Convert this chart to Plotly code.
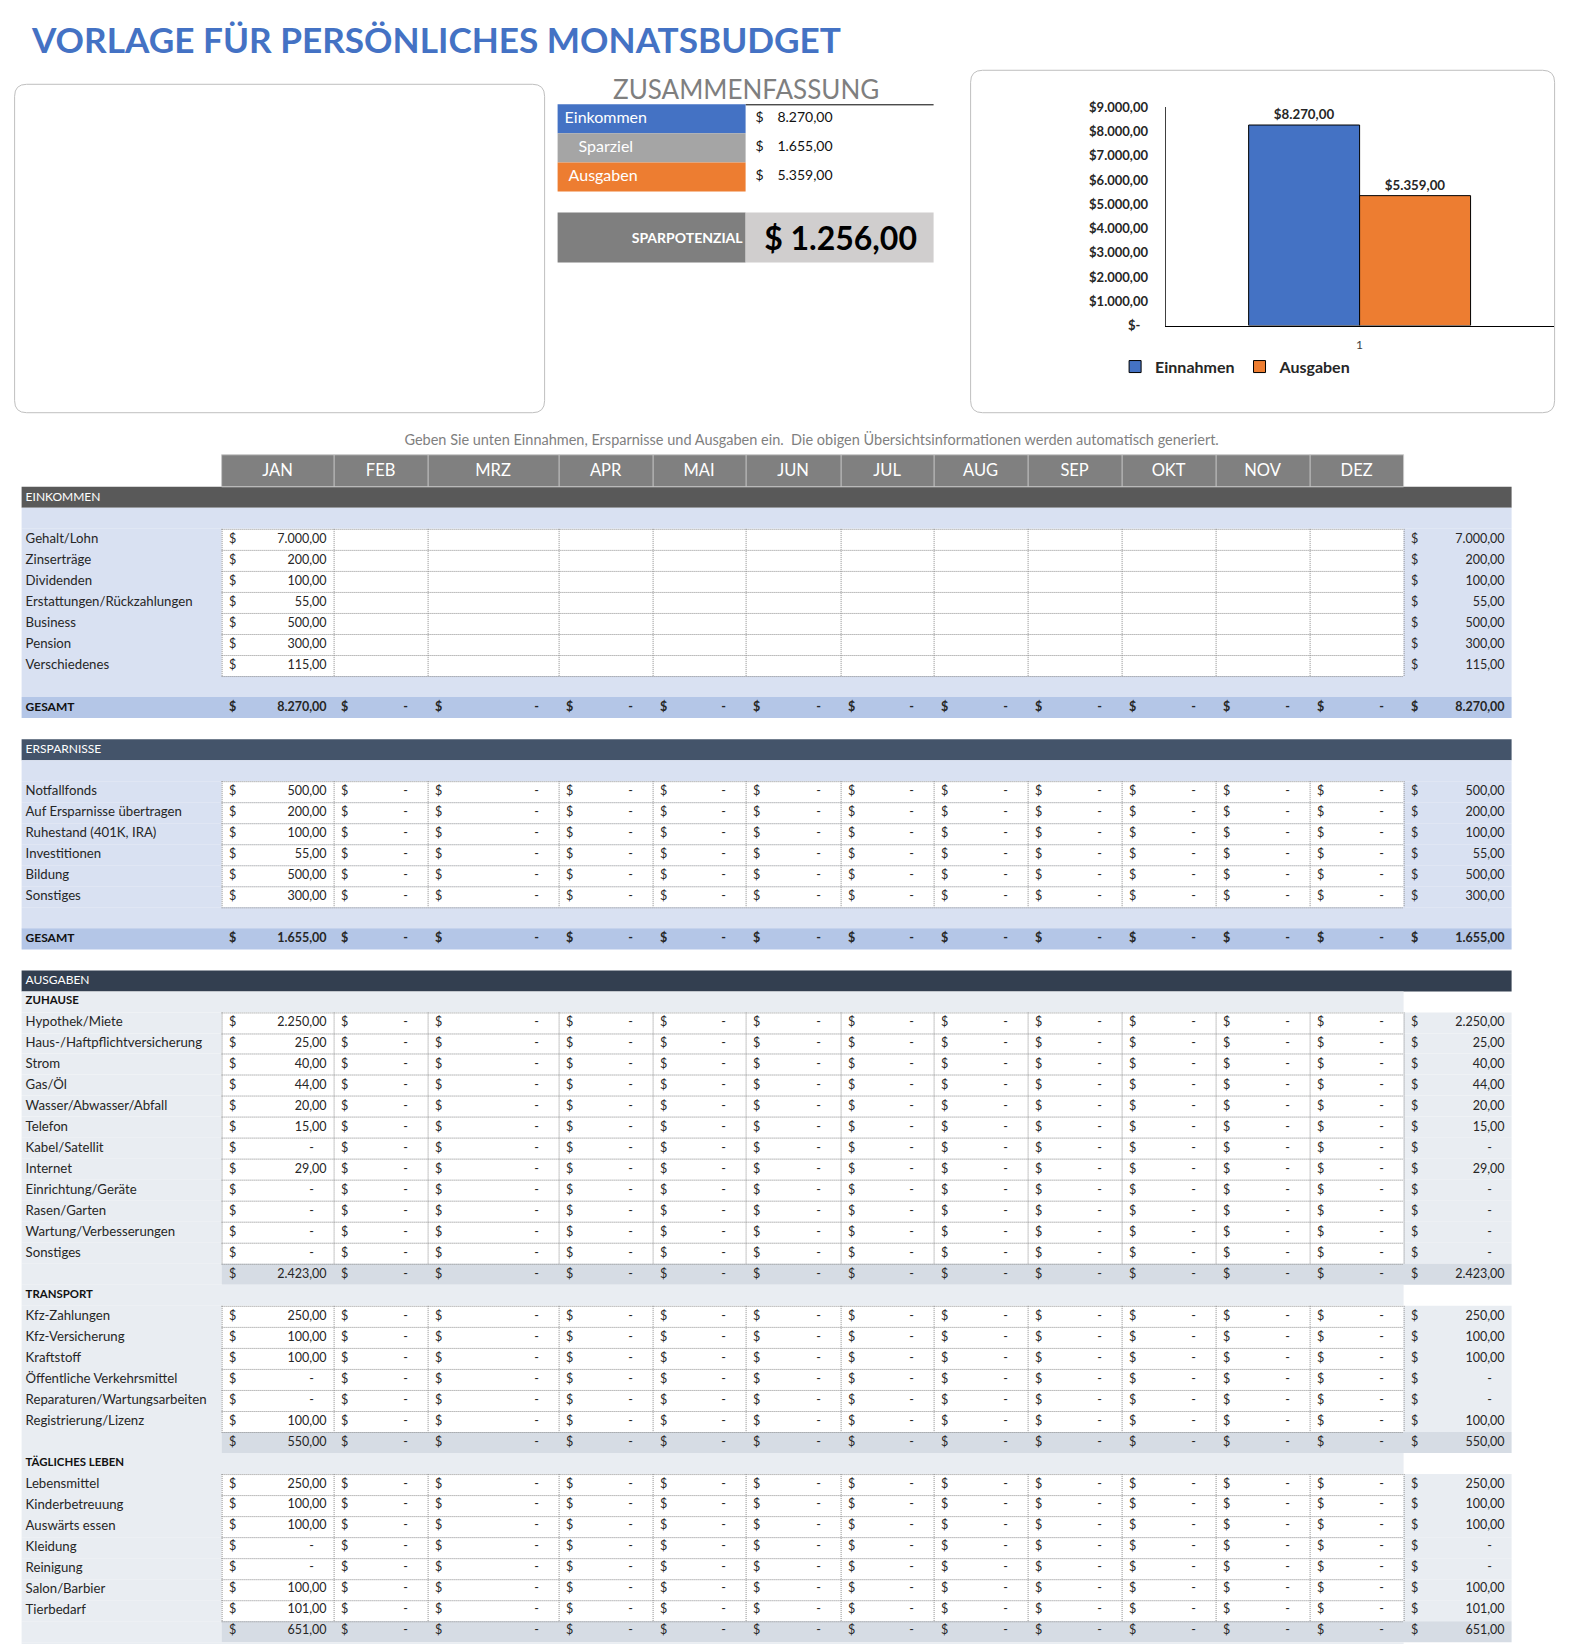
import plotly.graph_objects as go

W, H = 1585, 1644
FONT = "Lato, 'Open Sans', sans-serif"

# ---------------- data ----------------
title_text = "VORLAGE FÜR PERSÖNLICHES MONATSBUDGET"
summary_title = "ZUSAMMENFASSUNG"
summary_labels = ["Einkommen", "Sparziel", "Ausgaben"]
summary_values = [8270.00, 1655.00, 5359.00]
potential_label = "SPARPOTENZIAL"
potential_value = 1256.00

chart_series = ["Einnahmen", "Ausgaben"]
chart_values = [8270.00, 5359.00]
chart_categories = ["1"]
chart_ticks = [0, 1000, 2000, 3000, 4000, 5000, 6000, 7000, 8000, 9000]

note_text = ("Geben Sie unten Einnahmen, Ersparnisse und Ausgaben ein.  "
             "Die obigen Übersichtsinformationen werden automatisch generiert.")
months = ["JAN", "FEB", "MRZ", "APR", "MAI", "JUN", "JUL", "AUG", "SEP", "OKT", "NOV", "DEZ"]

income_labels = ["Gehalt/Lohn", "Zinserträge", "Dividenden", "Erstattungen/Rückzahlungen",
                 "Business", "Pension", "Verschiedenes"]
income_jan = [7000, 200, 100, 55, 500, 300, 115]

savings_labels = ["Notfallfonds", "Auf Ersparnisse übertragen", "Ruhestand (401K, IRA)",
                  "Investitionen", "Bildung", "Sonstiges"]
savings_jan = [500, 200, 100, 55, 500, 300]

home_labels = ["Hypothek/Miete", "Haus-/Haftpflichtversicherung", "Strom", "Gas/Öl",
               "Wasser/Abwasser/Abfall", "Telefon", "Kabel/Satellit", "Internet",
               "Einrichtung/Geräte", "Rasen/Garten", "Wartung/Verbesserungen", "Sonstiges"]
home_jan = [2250, 25, 40, 44, 20, 15, 0, 29, 0, 0, 0, 0]

transport_labels = ["Kfz-Zahlungen", "Kfz-Versicherung", "Kraftstoff",
                    "Öffentliche Verkehrsmittel", "Reparaturen/Wartungsarbeiten",
                    "Registrierung/Lizenz"]
transport_jan = [250, 100, 100, 0, 0, 100]

daily_labels = ["Lebensmittel", "Kinderbetreuung", "Auswärts essen", "Kleidung",
                "Reinigung", "Salon/Barbier", "Tierbedarf"]
daily_jan = [250, 100, 100, 0, 0, 100, 101]

expense_groups = [("ZUHAUSE", home_labels, home_jan),
                  ("TRANSPORT", transport_labels, transport_jan),
                  ("TÄGLICHES LEBEN", daily_labels, daily_jan)]

# ---------------- styles / geometry ----------------
BLUE = "#4472C4"
ORANGE = "#ED7D31"
GRAY_S = "#A5A5A5"
C_BAND = ["#595959", "#44546A", "#333F50"]
C_INC_BG = "#D9E1F2"
C_INC_TOT = "#B4C6E7"
C_EXP_BG = "#E9EDF2"
C_EXP_SUB = "#D6DCE4"
TXT = "#262626"

# page placement calibration (page offset / scale of the rendered canvas)
XOFF = 8.4
YA, YB = 15.8, 0.989


def paper_x(px):
    return (px - XOFF) / W


def paper_y(py):
    return 1 - (py - YA) / (YB * H)


COL = [222, 334, 428, 559, 653, 746, 841, 934, 1028, 1122, 1216, 1310, 1404]
ANN_R = 1512
LEFT = 22
ROW0 = 496.9
RH = 20.966


def yc(k):
    return ROW0 + RH * k


def ytop(k):
    return round(yc(k) - RH / 2)


def de(v):
    s = f"{v:,.2f}"
    return s.replace(",", "X").replace(".", ",").replace("X", ".")


shapes = []
texts = {}


def rect(x0, y0, x1, y1, color, line=None):
    shapes.append(dict(type="rect", xref="x", yref="y", x0=x0, y0=y0, x1=x1, y1=y1,
                       fillcolor=color, line=dict(width=0) if line is None else line,
                       layer="below"))


def hline(x0, x1, y, color="#8C8C8C", dash="1px,1px"):
    shapes.append(dict(type="line", xref="x", yref="y", x0=x0, x1=x1, y0=y, y1=y,
                       line=dict(color=color, width=1, dash=dash), layer="below"))


def vline(x, y0, y1, color="#8C8C8C", dash="1px,1px"):
    shapes.append(dict(type="line", xref="x", yref="y", x0=x, x1=x, y0=y0, y1=y1,
                       line=dict(color=color, width=1, dash=dash), layer="below"))


def put(x, y, s, pos="middle center", size=12.5, color=TXT, bold=False):
    key = (pos, size, color, bold)
    d = texts.setdefault(key, ([], [], []))
    d[0].append(x)
    d[1].append(y)
    d[2].append(s)


def rrect(x0, y0, x1, y1, r):
    return (f"M{x0 + r},{y0} L{x1 - r},{y0} Q{x1},{y0} {x1},{y0 + r} L{x1},{y1 - r} "
            f"Q{x1},{y1} {x1 - r},{y1} L{x0 + r},{y1} Q{x0},{y1} {x0},{y1 - r} "
            f"L{x0},{y0 + r} Q{x0},{y0} {x0 + r},{y0} Z")


# ---------------- table rows ----------------
rows = []


def add(kind, **kw):
    rows.append(dict(kind=kind, **kw))


def month_totals(vlists):
    return [sum((v[m] or 0) for v in vlists) for m in range(12)]


add("band", label="EINKOMMEN", color=C_BAND[0])
add("blank", color=C_INC_BG, x1=ANN_R)
inc_vals = [[v] + [None] * 11 for v in income_jan]
for lab, vals in zip(income_labels, inc_vals):
    add("item", label=lab, vals=vals, bg=C_INC_BG)
add("blank", color=C_INC_BG, x1=ANN_R)
add("total", label="GESAMT", vals=month_totals(inc_vals), color=C_INC_TOT)
add("white")
add("band", label="ERSPARNISSE", color=C_BAND[1])
add("blank", color=C_INC_BG, x1=ANN_R)
sav_vals = [[v] + [0] * 11 for v in savings_jan]
for lab, vals in zip(savings_labels, sav_vals):
    add("item", label=lab, vals=vals, bg=C_INC_BG)
add("blank", color=C_INC_BG, x1=ANN_R)
add("total", label="GESAMT", vals=month_totals(sav_vals), color=C_INC_TOT)
add("white")
add("band", label="AUSGABEN", color=C_BAND[2])
for cat, labs, jan in expense_groups:
    add("blank", color=C_EXP_BG, x1=COL[-1], label=cat)
    gv = [[v] + [0] * 11 for v in jan]
    for lab, vals in zip(labs, gv):
        add("item", label=lab, vals=vals, bg=C_EXP_BG)
    add("sub", vals=month_totals(gv))
add("blank", color=C_EXP_BG, x1=COL[-1], label="")


def cell_values(k, vals, bold=False):
    y = yc(k)
    for m, v in enumerate(vals):
        if v is None:
            continue
        put(COL[m] + 11, y, "$", bold=bold)
        if v == 0:
            put(COL[m + 1] - 22, y, "-", bold=bold)
        else:
            put(COL[m + 1] - 7, y, de(v), pos="middle left", bold=bold)
    total = sum((v or 0) for v in vals)
    put(COL[-1] + 11, y, "$", bold=bold)
    if total == 0:
        put(ANN_R - 22, y, "-", bold=bold)
    else:
        put(ANN_R - 7, y, de(total), pos="middle left", bold=bold)


LABEL_SIZE = 13.2
item_runs = []
for k, r in enumerate(rows):
    y0, y1 = ytop(k), ytop(k + 1)
    kind = r["kind"]
    if kind == "band":
        rect(LEFT, y0, ANN_R, y1, r["color"])
        put(26, yc(k), r["label"], pos="middle right", size=12, color="white")
    elif kind == "blank":
        rect(LEFT, y0, r["x1"], y1, r["color"])
        if r.get("label"):
            put(26, yc(k), r["label"], pos="middle right", size=11.4, color="#111111", bold=True)
    elif kind == "item":
        rect(LEFT, y0, ANN_R, y1, r["bg"])
        rect(COL[0], y0, COL[-1], y1, "white")
        put(26, yc(k), r["label"], pos="middle right", size=LABEL_SIZE)
        cell_values(k, r["vals"])
        if item_runs and item_runs[-1][1] == k - 1:
            item_runs[-1][1] = k
        else:
            item_runs.append([k, k])
    elif kind == "total":
        rect(LEFT, y0, ANN_R, y1, r["color"])
        put(26, yc(k), r["label"], pos="middle right", size=12, color="#111111", bold=True)
        cell_values(k, r["vals"], bold=True)
    elif kind == "sub":
        rect(LEFT, y0, COL[0], y1, C_EXP_BG)
        rect(COL[0], y0, ANN_R, y1, C_EXP_SUB)
        cell_values(k, r["vals"])

for ks, ke in item_runs:
    for k in range(ks, ke + 2):
        hline(COL[0], COL[-1], ytop(k) + 0.5)
    for x in COL:
        vline(x + 0.5, ytop(ks), ytop(ke + 1))

# month header
HT, HB = 454, ytop(0)
rect(COL[0], HT, COL[-1], HB, "#808080", line=dict(color="#C8C8C8", width=1))
for x in COL[1:-1]:
    vline(x + 0.5, HT, HB, color="#C8C8C8", dash="solid")
for m, name in enumerate(months):
    put((COL[m] + COL[m + 1]) / 2, (HT + HB) / 2 + 1, name, size=16.5, color="white")

put(812, 441, note_text, size=14.5, color="#7F7F7F")

# ---------------- top area ----------------
shapes.append(dict(type="path", xref="x", yref="y", path=rrect(15, 84, 545, 412, 12),
                   line=dict(color="#BFBFBF", width=1), fillcolor="rgba(0,0,0,0)", layer="below"))
shapes.append(dict(type="path", xref="x", yref="y", path=rrect(971, 70, 1555, 412, 12),
                   line=dict(color="#BFBFBF", width=1), fillcolor="rgba(0,0,0,0)", layer="below"))

annotations = []
annotations.append(dict(x=29, y=39, xref="x", yref="y", text=title_text, showarrow=False,
                        xanchor="left", yanchor="middle",
                        font=dict(family=FONT, size=35.2, color=BLUE, weight="bold")))
annotations.append(dict(x=746, y=89, xref="x", yref="y", text=summary_title, showarrow=False,
                        xanchor="center", yanchor="middle",
                        font=dict(family=FONT, size=26, color="#7F7F7F")))
hline(746, 934, 104.5, color="#000000", dash="solid")

sum_colors = [BLUE, GRAY_S, ORANGE]
sum_text_x = [565, 579, 569]
for i, (lab, val) in enumerate(zip(summary_labels, summary_values)):
    t0, t1 = 104 + 29 * i, 104 + 29 * (i + 1)
    rect(558, t0, 746, t1, sum_colors[i])
    put(sum_text_x[i], (t0 + t1) / 2, lab, pos="middle right", size=16, color="white")
    put(760, (t0 + t1) / 2, "$", size=14, color="#111111")
    put(833, (t0 + t1) / 2, de(val), pos="middle left", size=14, color="#111111")

rect(558, 212, 746, 262, "#7F7F7F")
rect(746, 212, 934, 262, "#D0CECE")
put(743, 239, potential_label, pos="middle left", size=14, color="white", bold=True)
put(841, 242, "$ " + de(potential_value), size=32, color="#000000", bold=True)

# ---------------- figure ----------------
fig = go.Figure()

for key, (xs, ys, ss) in texts.items():
    pos, size, color, bold = key
    fig.add_trace(go.Scatter(
        x=xs, y=ys, text=ss, mode="text", textposition=pos,
        textfont=dict(family=FONT, size=size, color=color, weight="bold" if bold else "normal"),
        hoverinfo="skip", showlegend=False, cliponaxis=False, xaxis="x", yaxis="y"))

bar_colors = [BLUE, ORANGE]
for name, val, col in zip(chart_series, chart_values, bar_colors):
    fig.add_trace(go.Bar(
        x=chart_categories, y=[val], name=name, xaxis="x2", yaxis="y2",
        marker=dict(color=col, line=dict(color="#000000", width=1)),
        text=["$" + de(val)], textposition="outside", cliponaxis=False,
        textfont=dict(family=FONT, size=13.3, color=TXT, weight="bold"),
        hoverinfo="skip"))

tick_text = ["$-\u2007" if v == 0 else "$" + de(v) for v in chart_ticks]

fig.update_layout(
    width=W, height=H, margin=dict(l=0, r=0, t=0, b=0),
    paper_bgcolor="white", plot_bgcolor="rgba(0,0,0,0)",
    shapes=shapes, annotations=annotations,
    barmode="group", bargap=0.428, bargroupgap=0,
    xaxis=dict(domain=[0, 1], range=[XOFF, W + XOFF], visible=False, fixedrange=True),
    yaxis=dict(domain=[0, 1], range=[YA + YB * H, YA], visible=False, fixedrange=True),
    xaxis2=dict(domain=[paper_x(1166), paper_x(1554)], anchor="y2", showline=True,
                linecolor="#000000", linewidth=1, showgrid=False, zeroline=False,
                ticks="outside", ticklen=8, tickcolor="rgba(0,0,0,0)",
                tickfont=dict(family=FONT, size=12, color="#404040")),
    yaxis2=dict(domain=[paper_y(325), paper_y(107)], anchor="x2", range=[0, 9000],
                showline=True, linecolor="#404040", linewidth=1, showgrid=False,
                zeroline=False, tickvals=chart_ticks, ticktext=tick_text,
                ticks="outside", ticklen=14, tickcolor="rgba(0,0,0,0)",
                tickfont=dict(family=FONT, size=13, color=TXT, weight="bold")),
    legend=dict(orientation="h", x=paper_x(1236), xanchor="center", y=paper_y(366),
                yanchor="middle", bgcolor="rgba(0,0,0,0)", itemwidth=30,
                font=dict(family=FONT, size=16, color=TXT, weight="bold")),
    showlegend=True,
)

fig.write_html("out.html")
